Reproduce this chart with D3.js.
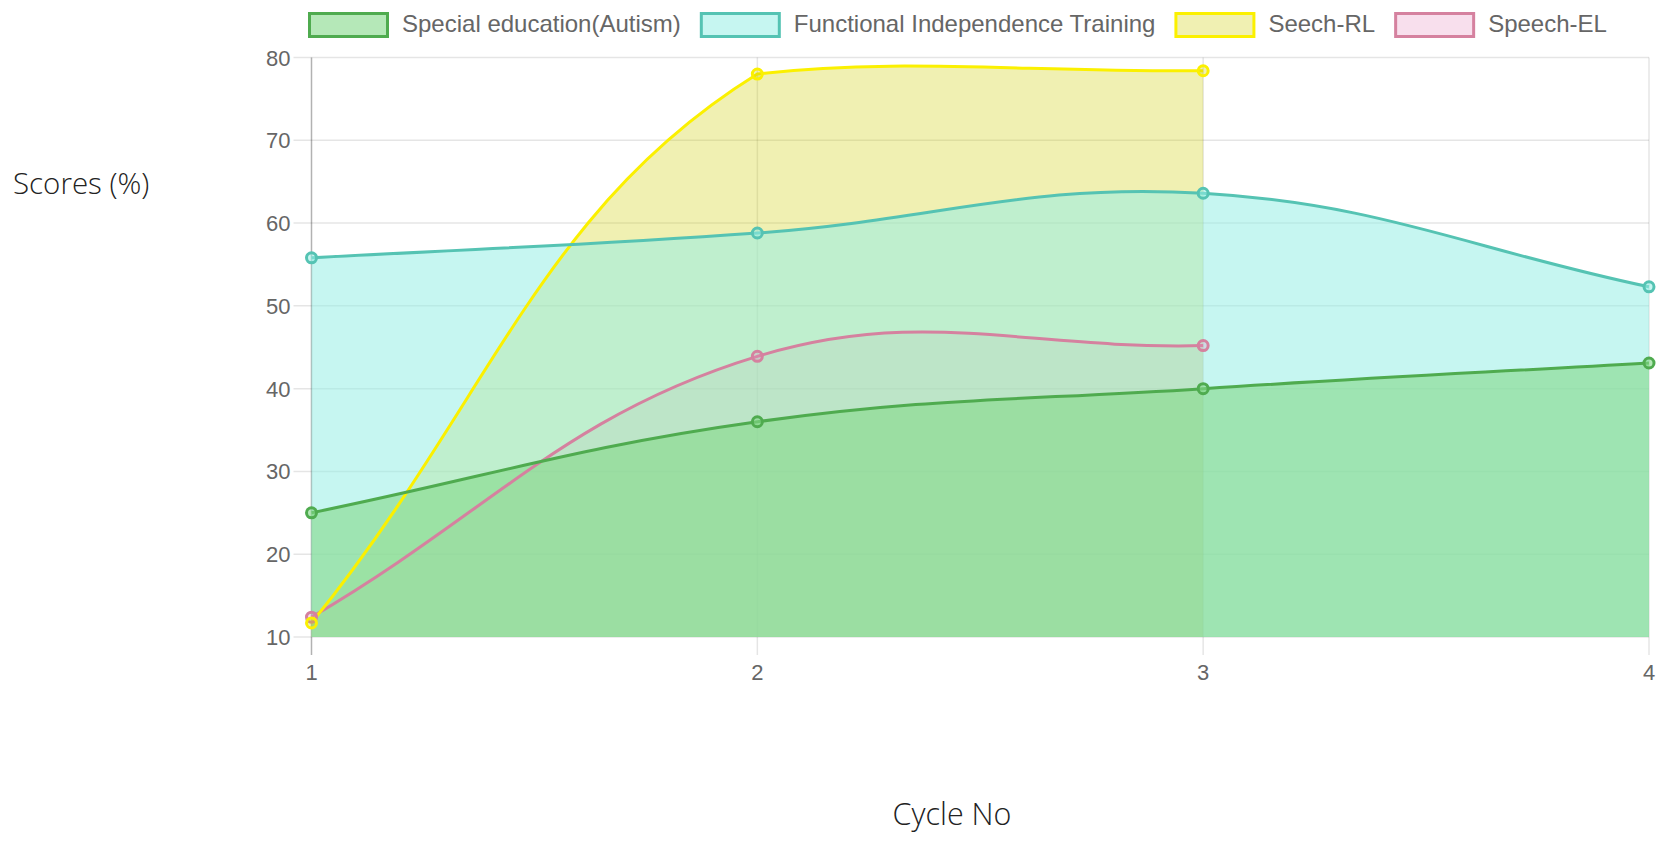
<!DOCTYPE html>
<html>
<head>
<meta charset="utf-8" />
<script src="https://cdn.jsdelivr.net/npm/d3@7"></script>
<style>
  body { margin: 0; background: #fff; }
  svg { display: block; background: #fff; }
  .tick-label { font-family: "Liberation Sans", Arial, Helvetica, sans-serif; font-size: 22px; fill: #666; }
  .legend-label { font-family: "Liberation Sans", Arial, Helvetica, sans-serif; font-size: 24px; fill: #666; }
  .axis-title { font-family: "Open Sans", "Noto Sans", sans-serif; font-weight: 300; fill: #222; }
</style>
</head>
<body>
<div id="chart"></div>
<script>
// data
var cycles = [1, 2, 3, 4];
var seriesNames = ["Special education(Autism)", "Functional Independence Training", "Seech-RL", "Speech-EL"];
var specialEd = [25, 36, 40, 43.1];
var functionalTraining = [55.8, 58.8, 63.6, 52.3];
var speechRL = [11.7, 78, 78.4];
var speechEL = [12.4, 43.9, 45.2];
var yTickValues = [10, 20, 30, 40, 50, 60, 70, 80];

var lineColors = ["#4fab4f", "#55c3b3", "#fbf000", "#d5819f"];
var fillColors = ["rgba(132,216,136,0.6)", "rgba(151,239,230,0.55)", "rgba(204,204,0,0.3)", "rgba(230,140,190,0.28)"];

var series = [specialEd, functionalTraining, speechRL, speechEL].map(function (vals, i) {
  return { name: seriesNames[i], values: vals, line: lineColors[i], fill: fillColors[i] };
});

var W = 1660, H = 841;
var areaLeft = 311.5, areaRight = 1649, areaTop = 57.5, areaBottom = 637;

var svg = d3.select("#chart").append("svg").attr("width", W).attr("height", H);

var x = d3.scalePoint().domain(cycles).range([areaLeft, areaRight]);
var y = d3.scaleLinear().domain([10, 80]).range([areaBottom, areaTop]);

// grid
var grid = svg.append("g");
grid.selectAll(".hg").data(yTickValues).enter().append("line")
  .attr("x1", areaLeft - 18).attr("x2", areaRight)
  .attr("y1", function (d) { return y(d); }).attr("y2", function (d) { return y(d); })
  .attr("stroke", "rgba(0,0,0,0.1)").attr("stroke-width", 1.5);
grid.selectAll(".vg").data(cycles).enter().append("line")
  .attr("x1", function (d) { return x(d); }).attr("x2", function (d) { return x(d); })
  .attr("y1", areaTop).attr("y2", areaBottom + 18)
  .attr("stroke", function (d, i) { return i == 0 ? "rgba(0,0,0,0.3)" : "rgba(0,0,0,0.1)"; })
  .attr("stroke-width", 1.5);

svg.selectAll(".ylab").data(yTickValues).enter().append("text")
  .attr("class", "tick-label")
  .attr("x", areaLeft - 21).attr("y", function (d) { return y(d) + 8; })
  .attr("text-anchor", "end")
  .text(function (d) { return d; });

svg.selectAll(".xlab").data(cycles).enter().append("text")
  .attr("class", "tick-label")
  .attr("x", function (d) { return x(d); }).attr("y", areaBottom + 43)
  .attr("text-anchor", "middle")
  .text(function (d) { return d; });

// chart.js style spline (tension 0.4, control points capped to chart area)
function controlPoints(pts, t) {
  var cps = [];
  for (var i = 0; i < pts.length; i++) {
    var prev = i > 0 ? pts[i - 1] : pts[i];
    var cur = pts[i];
    var next = i < pts.length - 1 ? pts[i + 1] : pts[i];
    var d01 = Math.hypot(cur[0] - prev[0], cur[1] - prev[1]);
    var d12 = Math.hypot(next[0] - cur[0], next[1] - cur[1]);
    var s01 = d01 / (d01 + d12), s12 = d12 / (d01 + d12);
    if (isNaN(s01)) s01 = 0;
    if (isNaN(s12)) s12 = 0;
    var fa = t * s01, fb = t * s12;
    var cp = {
      px: cur[0] - fa * (next[0] - prev[0]), py: cur[1] - fa * (next[1] - prev[1]),
      nx: cur[0] + fb * (next[0] - prev[0]), ny: cur[1] + fb * (next[1] - prev[1])
    };
    cp.px = Math.max(areaLeft, Math.min(areaRight, cp.px));
    cp.nx = Math.max(areaLeft, Math.min(areaRight, cp.nx));
    cp.py = Math.max(areaTop, Math.min(areaBottom, cp.py));
    cp.ny = Math.max(areaTop, Math.min(areaBottom, cp.ny));
    cps.push(cp);
  }
  return cps;
}

function splinePath(pts, closeDown) {
  var cps = controlPoints(pts, 0.4);
  var p = d3.path();
  p.moveTo(pts[0][0], pts[0][1]);
  for (var i = 1; i < pts.length; i++) {
    p.bezierCurveTo(cps[i - 1].nx, cps[i - 1].ny, cps[i].px, cps[i].py, pts[i][0], pts[i][1]);
  }
  if (closeDown) {
    p.lineTo(pts[pts.length - 1][0], areaBottom);
    p.lineTo(pts[0][0], areaBottom);
    p.closePath();
  }
  return p.toString();
}

series.forEach(function (s) {
  s.pts = s.values.map(function (v, i) { return [x(cycles[i]), y(v)]; });
});

// fills: last dataset first, like chart.js
var drawOrder = series.slice().reverse();
svg.append("g").selectAll("path").data(drawOrder).enter().append("path")
  .attr("d", function (s) { return splinePath(s.pts, true); })
  .attr("fill", function (s) { return s.fill; });

svg.append("g").selectAll("path").data(drawOrder).enter().append("path")
  .attr("d", function (s) { return splinePath(s.pts, false); })
  .attr("fill", "none")
  .attr("stroke", function (s) { return s.line; })
  .attr("stroke-width", 3);

drawOrder.forEach(function (s) {
  svg.append("g").selectAll("circle").data(s.pts).enter().append("circle")
    .attr("cx", function (d) { return d[0]; })
    .attr("cy", function (d) { return d[1]; })
    .attr("r", 5)
    .attr("fill", s.fill)
    .attr("stroke", s.line)
    .attr("stroke-width", 3);
});

// legend
var legend = svg.append("g");
var lx = 308;
series.forEach(function (s) {
  legend.append("rect")
    .attr("x", lx + 1.5).attr("y", 13.5).attr("width", 78).attr("height", 23)
    .attr("fill", s.fill).attr("stroke", s.line).attr("stroke-width", 3);
  var t = legend.append("text").attr("class", "legend-label")
    .attr("x", lx + 94).attr("y", 32).text(s.name);
  lx = lx + 94 + t.node().getComputedTextLength() + 19;
});

svg.append("text").attr("class", "axis-title").style("font-size", "29.5px")
  .attr("x", 13).attr("y", 194).text("Scores (%)");
svg.append("text").attr("class", "axis-title").style("font-size", "30.5px")
  .attr("x", 952).attr("y", 825).attr("text-anchor", "middle").text("Cycle No");
</script>
</body>
</html>
